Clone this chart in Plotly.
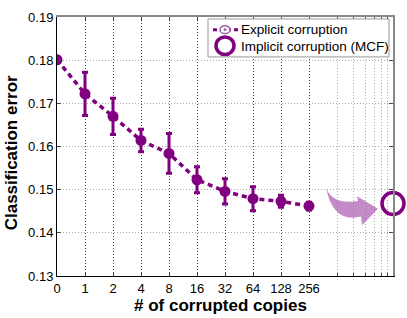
import numpy as np
import plotly.graph_objs as go

# data
copies = ['0', '1', '2', '4', '8', '16', '32', '64', '128', '256']
explicit_err = [0.1801, 0.1722, 0.1670, 0.1614, 0.1584, 0.1523, 0.1496, 0.1479, 0.1473, 0.1462]
explicit_std = [0.0, 0.0050, 0.0042, 0.0026, 0.0046, 0.0030, 0.0029, 0.0028, 0.0014, 0.0009]
mcf_err = [0.1468]
names = ['Explicit corruption', 'Implicit corruption (MCF)']

purple = '#800080'
W, H = 407, 318
L, R, T, B = 57, 14, 10, 42
xpos = list(range(len(copies)))
xmax = 12
# extra log-style grid lines past the last tick
extra = [9 + np.log2(k) for k in range(2, 8)]


def px(x, y):
    # pixel -> paper coords
    return (x - L) / (W - L - R), (H - B - y) / (H - T - B)


def box(x0, y0, x1, y1, **kw):
    a, b = px(x0, y0)
    c, d = px(x1, y1)
    return dict(x0=a, y0=b, x1=c, y1=d, xref='paper', yref='paper', layer='above', **kw)


# curved arrow
pts = [(326, 185), (332, 203), (358, 199), (357, 194), (378, 207), (362, 224), (361, 215), (333, 222), (326, 185)]
p = [px(*q) for q in pts]
arrow = ('M %f,%f Q %f,%f %f,%f L %f,%f L %f,%f L %f,%f L %f,%f Q %f,%f %f,%f Z'
         % tuple(v for q in p for v in q))

trace = go.Scatter(x=xpos, y=explicit_err, name=names[0], mode='lines+markers',
                   line=dict(color=purple, width=3.5, dash='5px,4px'),
                   marker=dict(color=purple, size=11),
                   error_y=dict(type='data', array=explicit_std, color=purple, thickness=3, width=3))
trace1 = go.Scatter(x=[xmax], y=mcf_err, name=names[1], mode='markers',
                    marker=dict(symbol='circle-open', color=purple, size=22, line=dict(width=3.5)),
                    cliponaxis=False)

# matlab style legend drawn by hand
shapes = [
    dict(type='path', path=arrow, xref='paper', yref='paper',
         fillcolor='rgba(175,100,180,0.75)', line=dict(width=0), layer='above'),
    box(208, 12, 389, 51, type='rect', fillcolor='white', line=dict(color='#999999', width=1)),
    box(213, 23, 238, 23, type='line', line=dict(color=purple, width=3, dash='4px,3px')),
    box(220, 19, 230, 27, type='circle', fillcolor='white', line=dict(color='#a060a8', width=1.5)),
    box(223.5, 21.5, 226.5, 24.5, type='circle', fillcolor='#a060a8', line=dict(width=0)),
    box(216, 30.5, 234, 48.5, type='circle', line=dict(color=purple, width=3.5)),
]
annotations = []
for i, nm in enumerate(names):
    ax, ay = px(239, 23 + 17 * i)
    annotations.append(dict(text=nm, x=ax, y=ay, xref='paper', yref='paper', xanchor='left',
                            yanchor='middle', showarrow=False, font=dict(size=13.5)))
tx, ty = px(220, 306)
annotations.append(dict(text='<b># of corrupted copies</b>', x=tx, y=ty, xref='paper', yref='paper',
                        xanchor='center', yanchor='middle', showarrow=False, font=dict(size=17)))
tx, ty = px(11, 150)
annotations.append(dict(text='<b>Classification error</b>', x=tx, y=ty, xref='paper', yref='paper',
                        xanchor='center', yanchor='middle', textangle=-90, showarrow=False,
                        font=dict(size=17)))

fig = go.Figure(data=[trace, trace1])
fig.update_layout(
    width=W, height=H, margin=dict(l=L, r=R, t=T, b=B),
    plot_bgcolor='white', paper_bgcolor='white',
    font=dict(family='Liberation Sans, Arial', size=13, color='black'),
    showlegend=False,
    xaxis=dict(range=[0, xmax], tickvals=xpos, ticktext=copies, ticks='inside', ticklen=4,
               showline=True, linecolor='black', linewidth=1, zeroline=False,
               showgrid=True, gridcolor='#444444', griddash='1px,2px', gridwidth=1,
               minor=dict(tickvals=extra, ticks='inside', ticklen=3, showgrid=True,
                          gridcolor='#aaaaaa', griddash='1px,2px')),
    yaxis=dict(range=[0.13, 0.19], dtick=0.01, tickformat='.2f', ticks='inside', ticklen=4,
               showline=True, linecolor='black', linewidth=1, zeroline=False,
               showgrid=True, gridcolor='#aaaaaa', griddash='1px,2px'),
    xaxis2=dict(overlaying='x', side='top', range=[0, xmax], tickvals=xpos, showticklabels=False,
                ticks='inside', ticklen=4, showline=True, linecolor='#888888', linewidth=1.5,
                showgrid=False, zeroline=False,
                minor=dict(tickvals=extra, ticks='inside', ticklen=3)),
    yaxis2=dict(overlaying='y', side='right', range=[0.13, 0.19], dtick=0.01, showticklabels=False,
                ticks='inside', ticklen=4, showline=True, linecolor='#888888', linewidth=1.5,
                showgrid=False, zeroline=False),
    shapes=shapes,
    annotations=annotations,
)
# dummy trace so the mirror axes get drawn
fig.add_trace(go.Scatter(x=[None], y=[None], xaxis='x2', yaxis='y2', showlegend=False, hoverinfo='skip'))

fig.write_html("out.html", config={'displayModeBar': False},
               post_script="document.body.style.margin='0';")
